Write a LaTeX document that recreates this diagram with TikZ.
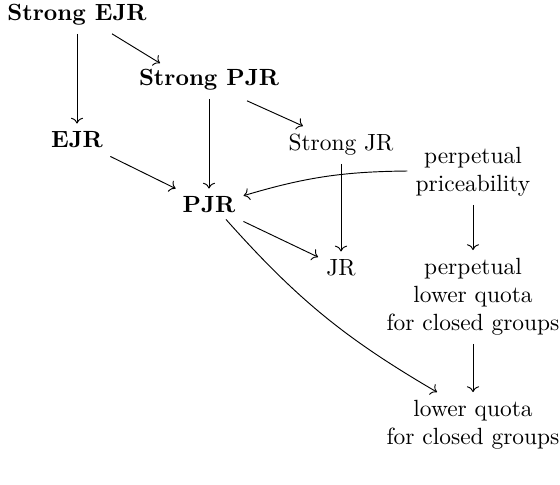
\documentclass[tikz,border=0pt]{standalone}
\usetikzlibrary{positioning,arrows.meta}

\tikzset{
  prop/.style={align=center},
  strong/.style={prop,font=\bfseries},
  impl/.style={->}
}

\begin{document}
\begin{tikzpicture}[x=0.015cm,y=-0.015cm]
    \useasboundingbox (0,0) rectangle (560,484);

    % properties
    \node[strong] (sejr) at (77,15) {Strong EJR};
    \node[strong] (spjr) at (209,80) {Strong PJR};
    \node[strong] (ejr) at (77,140) {EJR};
    \node[prop] (sjr) at (341,145) {Strong JR};
    \node[prop] (pp) at (473,172) {perpetual\\priceability};
    \node[strong] (pjr) at (209,205) {PJR};
    \node[prop] (jr) at (341,268) {JR};
    \node[prop] (plq) at (473,297) {perpetual\\lower quota\\for closed groups};
    \node[prop] (lq) at (473,425) {lower quota\\for closed groups};

    % implications
    \draw[impl] (sejr) -- (ejr);
    \draw[impl] ([shift={(35,0)}]sejr.south) -- ([shift={(-49,2)}]spjr.north);
    \draw[impl] (spjr) -- (pjr);
    \draw[impl] ([shift={(38,2)}]spjr.south) -- ([shift={(-38,0)}]sjr.north);
    \draw[impl] (ejr) -- (pjr);
    \draw[impl] (sjr) -- (jr);
    \draw[impl] (pp) to[bend right=8] (pjr);
    \draw[impl] (pjr) -- (jr);
    \draw[impl] (pp) -- (plq);
    \draw[impl] (plq) -- (lq);
    \draw[impl] ([shift={(17,-2)}]pjr.south) to[bend right=9] ([shift={(-36,0)}]lq.north);
\end{tikzpicture}
\end{document}
